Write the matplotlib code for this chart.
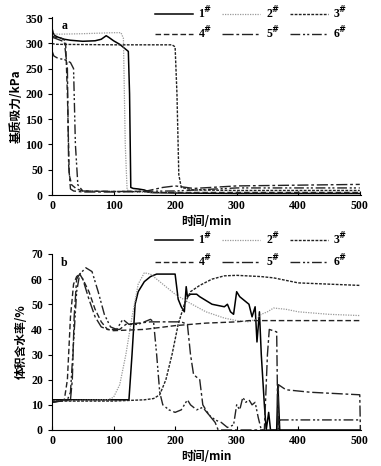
import numpy as np
import matplotlib
matplotlib.use("Agg")
import matplotlib.pyplot as plt

plt.rcParams['font.family'] = ['Liberation Serif', 'Noto Sans CJK SC']
plt.rcParams['font.weight'] = 'bold'

labels = ['1$^{\\#}$', '2$^{\\#}$', '3$^{\\#}$', '4$^{\\#}$', '5$^{\\#}$', '6$^{\\#}$']

# panel a: matric suction (kPa)
a1_t = [0, 2, 5, 10, 20, 30, 50, 70, 80, 88, 92, 100, 110, 118, 124, 126, 128, 132, 140, 150, 160, 200, 300, 400, 500]
a1_v = [330, 320, 315, 312, 308, 306, 304, 305, 308, 315, 312, 305, 298, 290, 284, 200, 15, 13, 12, 10, 5, 4, 3, 3, 3]
a2_t = [0, 3, 10, 50, 100, 112, 116, 119, 122, 130, 160, 500]
a2_v = [322, 319, 318, 319, 321, 321, 310, 100, 10, 6, 5, 5]
a3_t = [0, 5, 100, 195, 200, 203, 206, 210, 230, 300, 500]
a3_v = [300, 298, 297, 297, 293, 200, 40, 15, 10, 9, 9]
a4_t = [0, 5, 15, 22, 25, 28, 32, 40, 50, 100, 150, 160, 250, 500]
a4_v = [315, 312, 310, 305, 200, 40, 20, 12, 8, 7, 7, 5, 5, 5]
a5_t = [0, 5, 20, 25, 27, 30, 35, 50, 100, 150, 180, 200, 230, 300, 500]
a5_v = [312, 310, 303, 250, 60, 12, 8, 6, 6, 7, 15, 18, 13, 18, 21]
a6_t = [0, 3, 10, 20, 30, 35, 38, 42, 50, 100, 200, 300, 500]
a6_v = [285, 275, 270, 268, 262, 250, 100, 20, 8, 7, 8, 14, 14]

# panel b: volumetric water content (%)
b1_t = [0, 50, 100, 125, 130, 135, 140, 150, 160, 170, 200, 205, 210, 215, 218, 220, 225, 235, 240, 260, 280, 285, 290, 295,
        300, 305, 320, 325, 330, 333, 337, 340, 345, 348, 352, 355, 365, 367, 370, 500]
b1_v = [12, 12, 12, 12, 30, 50, 55, 59, 61, 62, 62, 52, 49, 47, 57, 53, 54, 54, 53, 50, 49, 50, 47, 46,
        55, 53, 50, 45, 49, 35, 47, 30, 10, 0, 7, 0, 0, 18, 0, 0]
b2_t = [0, 90, 100, 110, 120, 130, 140, 150, 160, 180, 200, 220, 250, 280, 300, 320, 330, 340, 350, 360, 380, 400, 450, 500]
b2_v = [11.5, 12, 13, 18, 30, 45, 58, 62.5, 62, 58, 54, 51, 47, 44.5, 43.5, 43, 44, 46, 47, 48.5, 48, 47, 46, 45.5]
b3_t = [0, 100, 150, 165, 175, 185, 195, 205, 215, 225, 240, 260, 280, 300, 340, 360, 380, 400, 450, 500]
b3_v = [11.5, 11.5, 12, 12.5, 14, 20, 30, 42, 50, 55, 57.5, 60, 61.3, 61.5, 61, 60.5, 59.5, 58.5, 58, 57.5]
b4_t = [0, 20, 25, 30, 35, 40, 45, 50, 60, 70, 80, 90, 100, 150, 200, 250, 300, 320, 500]
b4_v = [11, 12, 20, 45, 58, 61, 62, 60, 55, 48, 43, 40, 39.5, 40, 41.5, 42.5, 43, 43.5, 43.5]
b5_t = [0, 30, 33, 36, 40, 45, 50, 60, 70, 80, 90, 110, 120, 160, 210, 220, 225, 230, 240, 245, 255, 265, 270, 345,
        350, 353, 365, 367, 368, 380, 420, 500, 501]
b5_v = [11, 12, 20, 45, 60, 62, 60, 52, 45, 41, 40, 40, 42, 43, 43, 42, 30, 22, 20, 10, 6, 3, 0, 0,
        30, 40, 39, 0, 18, 16, 15, 14, 0]
b6_t = [0, 25, 30, 35, 40, 45, 55, 65, 75, 85, 95, 105, 115, 125, 140, 160, 165, 170, 175, 180, 190, 200, 210, 220,
        225, 235, 245, 255, 265, 275, 285, 295, 300, 305, 310, 315, 320, 325, 330, 335, 340, 368, 370, 500]
b6_v = [11, 12, 15, 35, 55, 62, 64.5, 63, 55, 46, 41, 40, 44, 42, 42, 44, 43, 30, 15, 10, 8, 7, 8, 12,
        10, 8, 9, 6, 4, 3, 1, 2, 10, 8, 13, 11, 12, 10, 11, 5, 0, 0, 4, 4]

styles = [
    dict(color='black', ls='-', lw=1.1),
    dict(color='#999999', ls=(0, (1, 1)), lw=0.9),
    dict(color='#222222', ls=(0, (2, 1)), lw=1.0),
    dict(color='#222222', ls=(0, (4, 2)), lw=1.0),
    dict(color='#222222', ls=(0, (8, 2, 2, 2)), lw=1.0),
    dict(color='#222222', ls=(0, (7, 2, 1.5, 1.5, 1.5, 2)), lw=1.0),
]

fig = plt.figure(figsize=(3.81, 4.66), dpi=100)
ax_a = fig.add_axes([0.1365, 0.5815, 0.811, 0.382])
ax_b = fig.add_axes([0.1365, 0.0773, 0.811, 0.3777])

series_a = [(a1_t, a1_v), (a2_t, a2_v), (a3_t, a3_v), (a4_t, a4_v), (a5_t, a5_v), (a6_t, a6_v)]
series_b = [(b1_t, b1_v), (b2_t, b2_v), (b3_t, b3_v), (b4_t, b4_v), (b5_t, b5_v), (b6_t, b6_v)]

# legend rows: top edge in figure pixels, row spacing
leg_pos = {0: (5, 0.25), 1: (231, 0.4)}

for i, (ax, series) in enumerate([(ax_a, series_a), (ax_b, series_b)]):
    lines = []
    for (t, v), st, lab in zip(series, styles, labels):
        ln, = ax.plot(t, v, label=lab, **st)
        lines.append(ln)
    ax.spines['top'].set_visible(False)
    ax.spines['right'].set_visible(False)
    ax.set_xlim(0, 502)
    ax.set_xticks([0, 100, 200, 300, 400, 500])
    ax.tick_params(axis='x', direction='in', length=3, labelsize=8.5)
    ax.tick_params(axis='y', direction='out', length=3, labelsize=8.5)
    ax.set_xlabel('时间/min', family=['Noto Sans CJK SC'], fontsize=8.5, fontweight='bold', labelpad=2)
    # row-major order for a 3-column legend
    order = [0, 3, 1, 4, 2, 5]
    top_px, spacing = leg_pos[i]
    fig.legend([lines[k] for k in order], [labels[k] for k in order], ncol=3, frameon=False,
               loc='upper left', bbox_to_anchor=(155 / 381, 1 - top_px / 466),
               handlelength=3.2, columnspacing=0.85, handletextpad=0.45, fontsize=8.5,
               labelspacing=spacing, borderpad=0, borderaxespad=0)

ax_a.set_ylim(0, 352)
ax_a.set_yticks(range(0, 351, 50))
ax_a.set_ylabel('基质吸力/kPa', family=['Noto Sans CJK SC'], fontsize=8.5, fontweight='bold', labelpad=2)
ax_a.text(0.03, 0.985, 'a', transform=ax_a.transAxes, fontsize=8.5, va='top')

ax_b.set_ylim(0, 70)
ax_b.set_yticks(range(0, 71, 10))
ax_b.set_ylabel('体积含水率/%', family=['Noto Sans CJK SC'], fontsize=8.5, fontweight='bold', labelpad=2)
ax_b.text(0.03, 0.985, 'b', transform=ax_b.transAxes, fontsize=8.5, va='top')

fig.savefig('out.png', dpi=100)
